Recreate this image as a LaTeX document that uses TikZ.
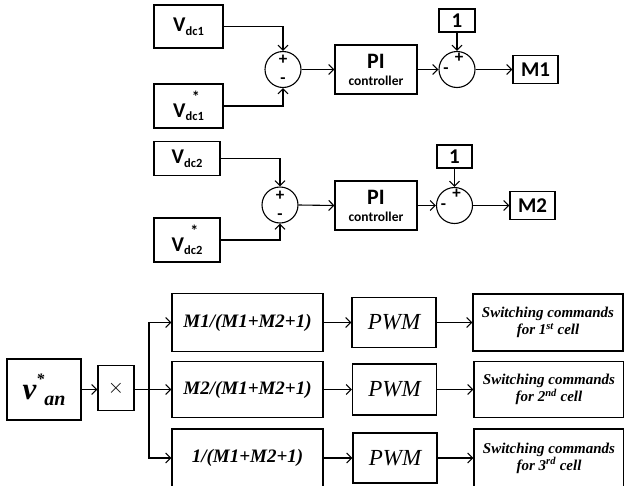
\documentclass[tikz,border=0pt]{standalone}
\usepackage{fontspec}
\setmainfont{Liberation Serif}
\newfontfamily\calfont{Carlito}
\usetikzlibrary{arrows.meta}
% measured signal names
\newcommand{\vdcsig}[1]{V\raisebox{-3.5pt}{\fontsize{12.5}{14}\selectfont dc#1}}
\newcommand{\vdcref}[1]{\vdcsig{#1}\llap{\raisebox{15pt}{\fontsize{16}{16}\selectfont *}\kern4pt}}
\newcommand{\vanref}{v\raisebox{15pt}{\fontsize{16}{16}\selectfont *}\raisebox{-6pt}{\fontsize{20}{20}\selectfont an}}

\begin{document}
\begin{tikzpicture}[
    x=1pt, y=-1pt,
    >={Straight Barb[length=5pt, width=10pt]},
    % ---- shared styles ---------------------------------------------------
    blk/.style={draw, line width=1.1pt, inner sep=0pt, align=center},
    topblk/.style={blk, font=\calfont\bfseries\fontsize{21}{23}\selectfont},
    numblk/.style={blk, font=\calfont\bfseries\fontsize{21}{23}\selectfont},
    piblk/.style={blk, font=\calfont\bfseries\fontsize{22}{17}\selectfont},
    sumc/.style={draw, circle, line width=1.1pt, minimum size=36pt, inner sep=0pt},
    sgn/.style={font=\calfont\bfseries\fontsize{17}{17}\selectfont, inner sep=0pt},
    botblk/.style={blk, font=\bfseries\itshape\fontsize{19}{21}\selectfont},
    pwmblk/.style={blk, font=\itshape\fontsize{23}{25}\selectfont},
    cmdblk/.style={blk, font=\bfseries\itshape\fontsize{15}{17}\selectfont},
    sig/.style={->, line width=1.1pt},
  ]
\useasboundingbox (0,0) rectangle (624,485);

% =========================================================================
% TOP -- first cell voltage loop
% =========================================================================
\node[topblk, minimum width=69pt, minimum height=43pt] (vdca) at (188.5,26.5) {\vdcsig{1}};
\node[topblk, minimum width=69pt, minimum height=44pt] (vdcaref) at (188.5,106) {\vdcref{1}};
\node[sumc] (suma) at (283,69.5) {};
\node[sgn] (suma+) at (283,60) {+};
\node[sgn] (suma-) at (283,81) {-};
\node[piblk, minimum width=82pt, minimum height=49pt] (pia) at (376,69.5)
  {PI\\{\fontsize{13.5}{15}\selectfont controller}};
\node[numblk, minimum width=36pt, minimum height=23pt] (onea) at (457,20.5) {1};
\node[sumc] (subta) at (457,69.5) {};
\node[sgn] (subta+) at (459,58) {+};
\node[sgn] (subta-) at (446,71) {-};
\node[numblk, minimum width=45pt, minimum height=28pt] (ma) at (535.5,69.5) {M1};

\draw[sig] (vdca.east) -| (suma.north);
\draw[sig] (vdcaref.east) -| (suma.south);
\draw[sig] (suma.east) -- (pia.west);
\draw[sig] (pia.east) -- (subta.west);
\draw[sig] (onea.south) -- (subta.north);
\draw[sig] (subta.east) -- (ma.west);

% =========================================================================
% MIDDLE -- second cell voltage loop
% =========================================================================
\node[topblk, minimum width=66pt, minimum height=34pt] (vdcb) at (187,158.5) {\vdcsig{2}};
\node[topblk, minimum width=66pt, minimum height=44pt] (vdcbref) at (187,240) {\vdcref{2}};
\node[sumc] (sumb) at (280,205) {};
\node[sgn] (sumb+) at (280,195.5) {+};
\node[sgn] (sumb-) at (280,216.5) {-};
\node[piblk, minimum width=82pt, minimum height=49pt] (pib) at (376,205.5)
  {PI\\{\fontsize{13.5}{15}\selectfont controller}};
\node[numblk, minimum width=35pt, minimum height=23pt] (oneb) at (454.5,156.5) {1};
\node[sumc] (subtb) at (454.5,205.5) {};
\node[sgn] (subtb+) at (456.5,194) {+};
\node[sgn] (subtb-) at (443.5,207) {-};
\node[numblk, minimum width=45pt, minimum height=28pt] (mb) at (532.5,205.5) {M2};

\draw[sig] (vdcb.east) -| (sumb.north);
\draw[sig] (vdcbref.east) -| (sumb.south);
\draw[sig] (sumb.east) -- (pib.west);
\draw[sig] (pib.east) -- (subtb.west);
\draw[sig] (oneb.south) -- (subtb.north);
\draw[sig] (subtb.east) -- (mb.west);

% =========================================================================
% BOTTOM -- reference split into the three cells
% =========================================================================
\node[blk, font=\bfseries\itshape\fontsize{31}{31}\selectfont,
      minimum width=74pt, minimum height=61pt] (van) at (44,389.5) {\vanref};
\node[blk, font=\calfont\fontsize{20}{20}\selectfont,
      minimum width=36pt, minimum height=45pt] (mult) at (116,388) {$\times$};
\coordinate (br) at (149,389.5);

\node[botblk, minimum width=151pt, minimum height=58pt] (fa) at (247.5,322.5) {M1/(M1+M2+1)};
\node[botblk, minimum width=151pt, minimum height=56pt] (fb) at (247.5,389.5) {M2/(M1+M2+1)};
\node[botblk, minimum width=151pt, minimum height=58pt] (fc) at (247.5,458) {1/(M1+M2+1)};

\node[pwmblk, minimum width=84pt, minimum height=50pt] (pwma) at (394,322.5) {PWM};
\node[pwmblk, minimum width=84pt, minimum height=51pt] (pwmb) at (394.5,389.5) {PWM};
\node[pwmblk, minimum width=84pt, minimum height=50pt] (pwmc) at (395,458) {PWM};

\node[cmdblk, minimum width=150pt, minimum height=57pt] (swa) at (548,322.5)
  {Switching commands\\for 1\textsuperscript{st} cell};
\node[cmdblk, minimum width=150pt, minimum height=56pt] (swb) at (549,389.5)
  {Switching commands\\for 2\textsuperscript{nd} cell};
\node[cmdblk, minimum width=150pt, minimum height=58pt] (swc) at (549,458)
  {Switching commands\\for 3\textsuperscript{rd} cell};

\draw[sig] (van.east) -- (mult.west |- van.east);
\draw[line width=1.1pt] (mult.east |- br) -- (br);
\draw[sig] (br) |- (fa.west);
\draw[sig] (br) -- (fb.west);
\draw[sig] (br) |- (fc.west);
\foreach \r in {a,b,c}{
  \draw[sig] (f\r.east) -- (pwm\r.west);
  \draw[sig] (pwm\r.east) -- (sw\r.west);}

\end{tikzpicture}
\end{document}
